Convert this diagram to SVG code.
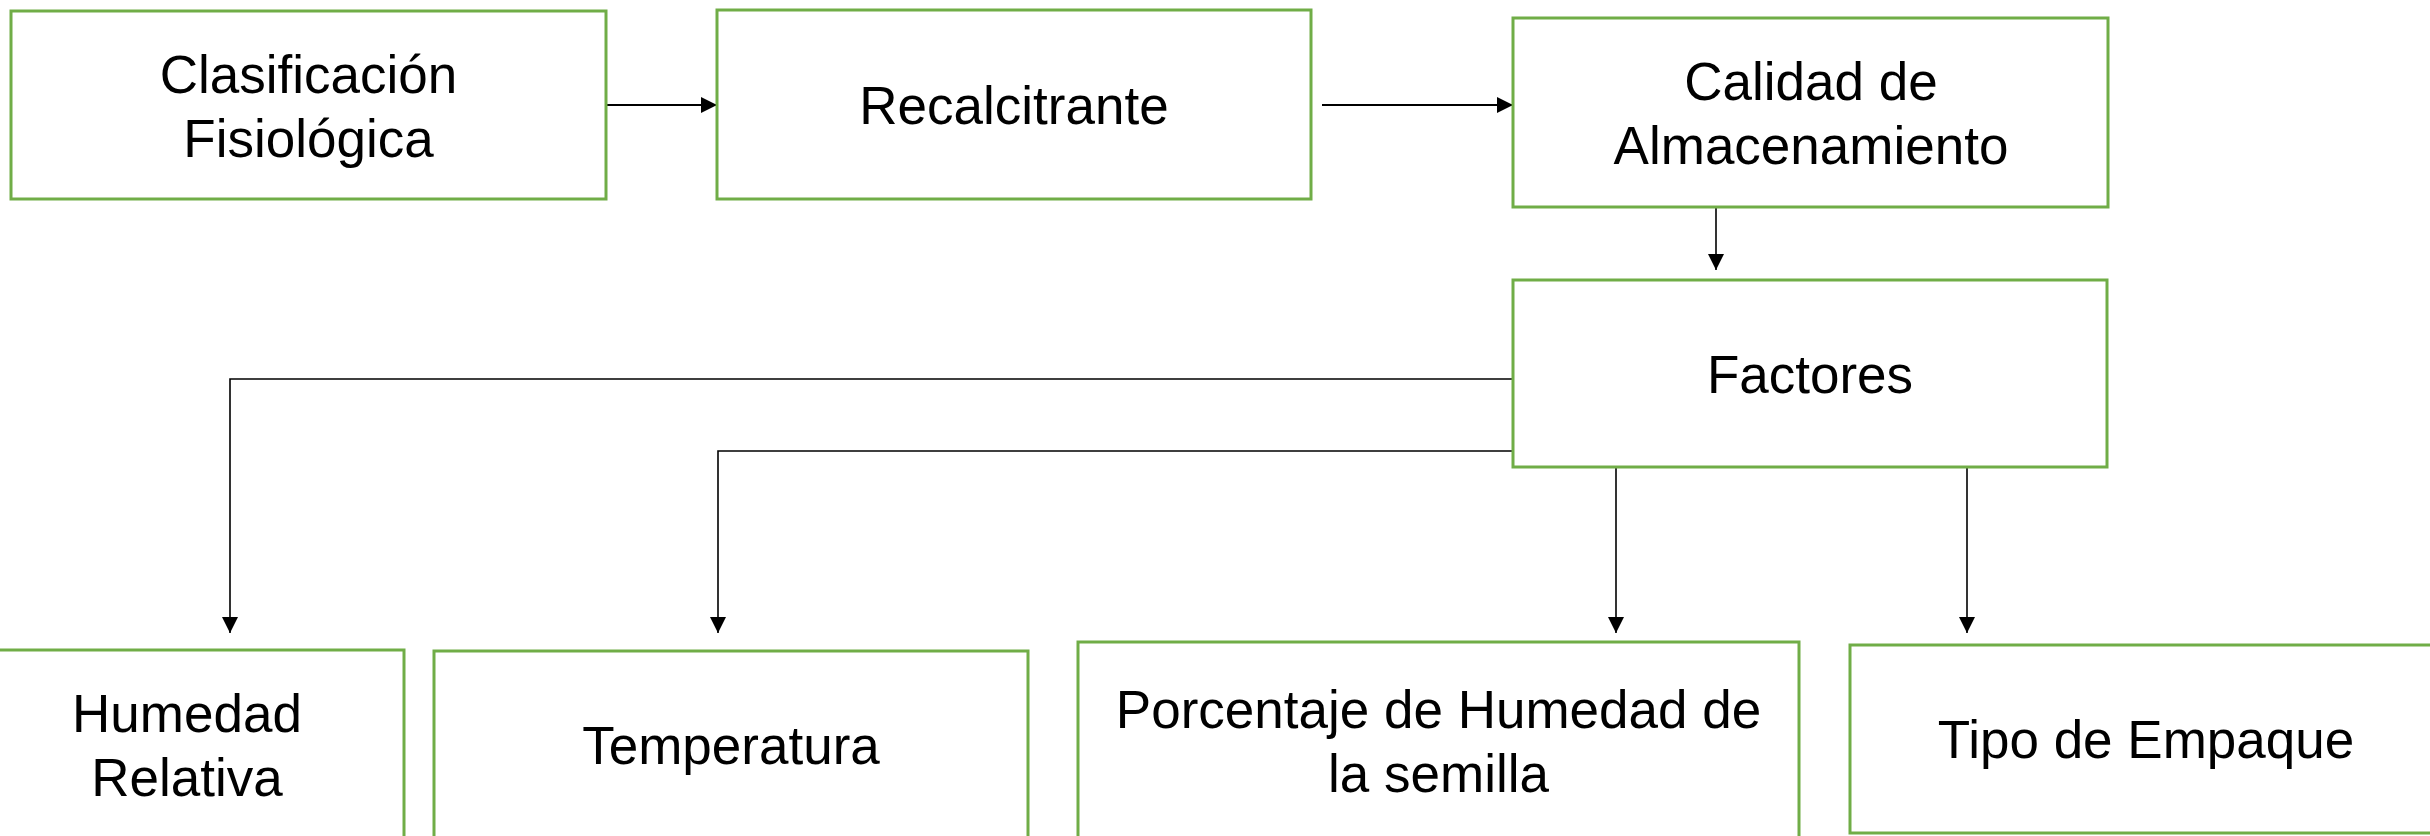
<svg xmlns="http://www.w3.org/2000/svg" width="2430" height="836" viewBox="0 0 2430 836">
<style>
.box{fill:#ffffff;stroke:#70AD47;stroke-width:3}
.t{font-family:"Liberation Sans",Arial,sans-serif;font-size:53px;fill:#000000;text-anchor:middle}
.c{fill:none;stroke:#000000;stroke-width:2}
.c2{fill:none;stroke:#000000;stroke-width:1.6}
</style>
<defs>
<marker id="ah" viewBox="0 0 10 10" refX="10" refY="5" markerUnits="userSpaceOnUse" markerWidth="16" markerHeight="16" orient="auto">
<path d="M0,0 L10,5 L0,10 Z" fill="#000000"/>
</marker>
</defs>
<rect width="2430" height="836" fill="#ffffff"/>
<g id="connectors">
<line class="c" x1="606" y1="105" x2="717" y2="105" marker-end="url(#ah)"/>
<line class="c" x1="1322" y1="105" x2="1513" y2="105" marker-end="url(#ah)"/>
<line class="c2" x1="1716" y1="207" x2="1716" y2="270" marker-end="url(#ah)"/>
<polyline class="c2" points="1513,379 230,379 230,633" marker-end="url(#ah)"/>
<polyline class="c2" points="1513,451 718,451 718,633" marker-end="url(#ah)"/>
<line class="c2" x1="1616" y1="467" x2="1616" y2="633" marker-end="url(#ah)"/>
<line class="c2" x1="1967" y1="467" x2="1967" y2="633" marker-end="url(#ah)"/>
</g>
<g id="n1">
<rect class="box" x="11" y="11" width="595" height="188"/>
<text class="t" x="308.5" y="93">Clasificación</text>
<text class="t" x="308.5" y="157">Fisiológica</text>
</g>
<g id="n2">
<rect class="box" x="717" y="10" width="594" height="189"/>
<text class="t" x="1014" y="124">Recalcitrante</text>
</g>
<g id="n3">
<rect class="box" x="1513" y="18" width="595" height="189"/>
<text class="t" x="1811" y="100">Calidad de</text>
<text class="t" x="1811" y="164">Almacenamiento</text>
</g>
<g id="n4">
<rect class="box" x="1513" y="280" width="594" height="187"/>
<text class="t" x="1810" y="393">Factores</text>
</g>
<g id="n5">
<rect class="box" x="-30" y="650" width="434" height="200"/>
<text class="t" x="187" y="732">Humedad</text>
<text class="t" x="187" y="796">Relativa</text>
</g>
<g id="n6">
<rect class="box" x="434" y="651" width="594" height="200"/>
<text class="t" x="731" y="764">Temperatura</text>
</g>
<g id="n7">
<rect class="box" x="1078" y="642" width="721" height="210"/>
<text class="t" x="1438.5" y="728">Porcentaje de Humedad de</text>
<text class="t" x="1438.5" y="792">la semilla</text>
</g>
<g id="n8">
<rect class="box" x="1850" y="645" width="592" height="188"/>
<text class="t" x="2146" y="758">Tipo de Empaque</text>
</g>
</svg>
